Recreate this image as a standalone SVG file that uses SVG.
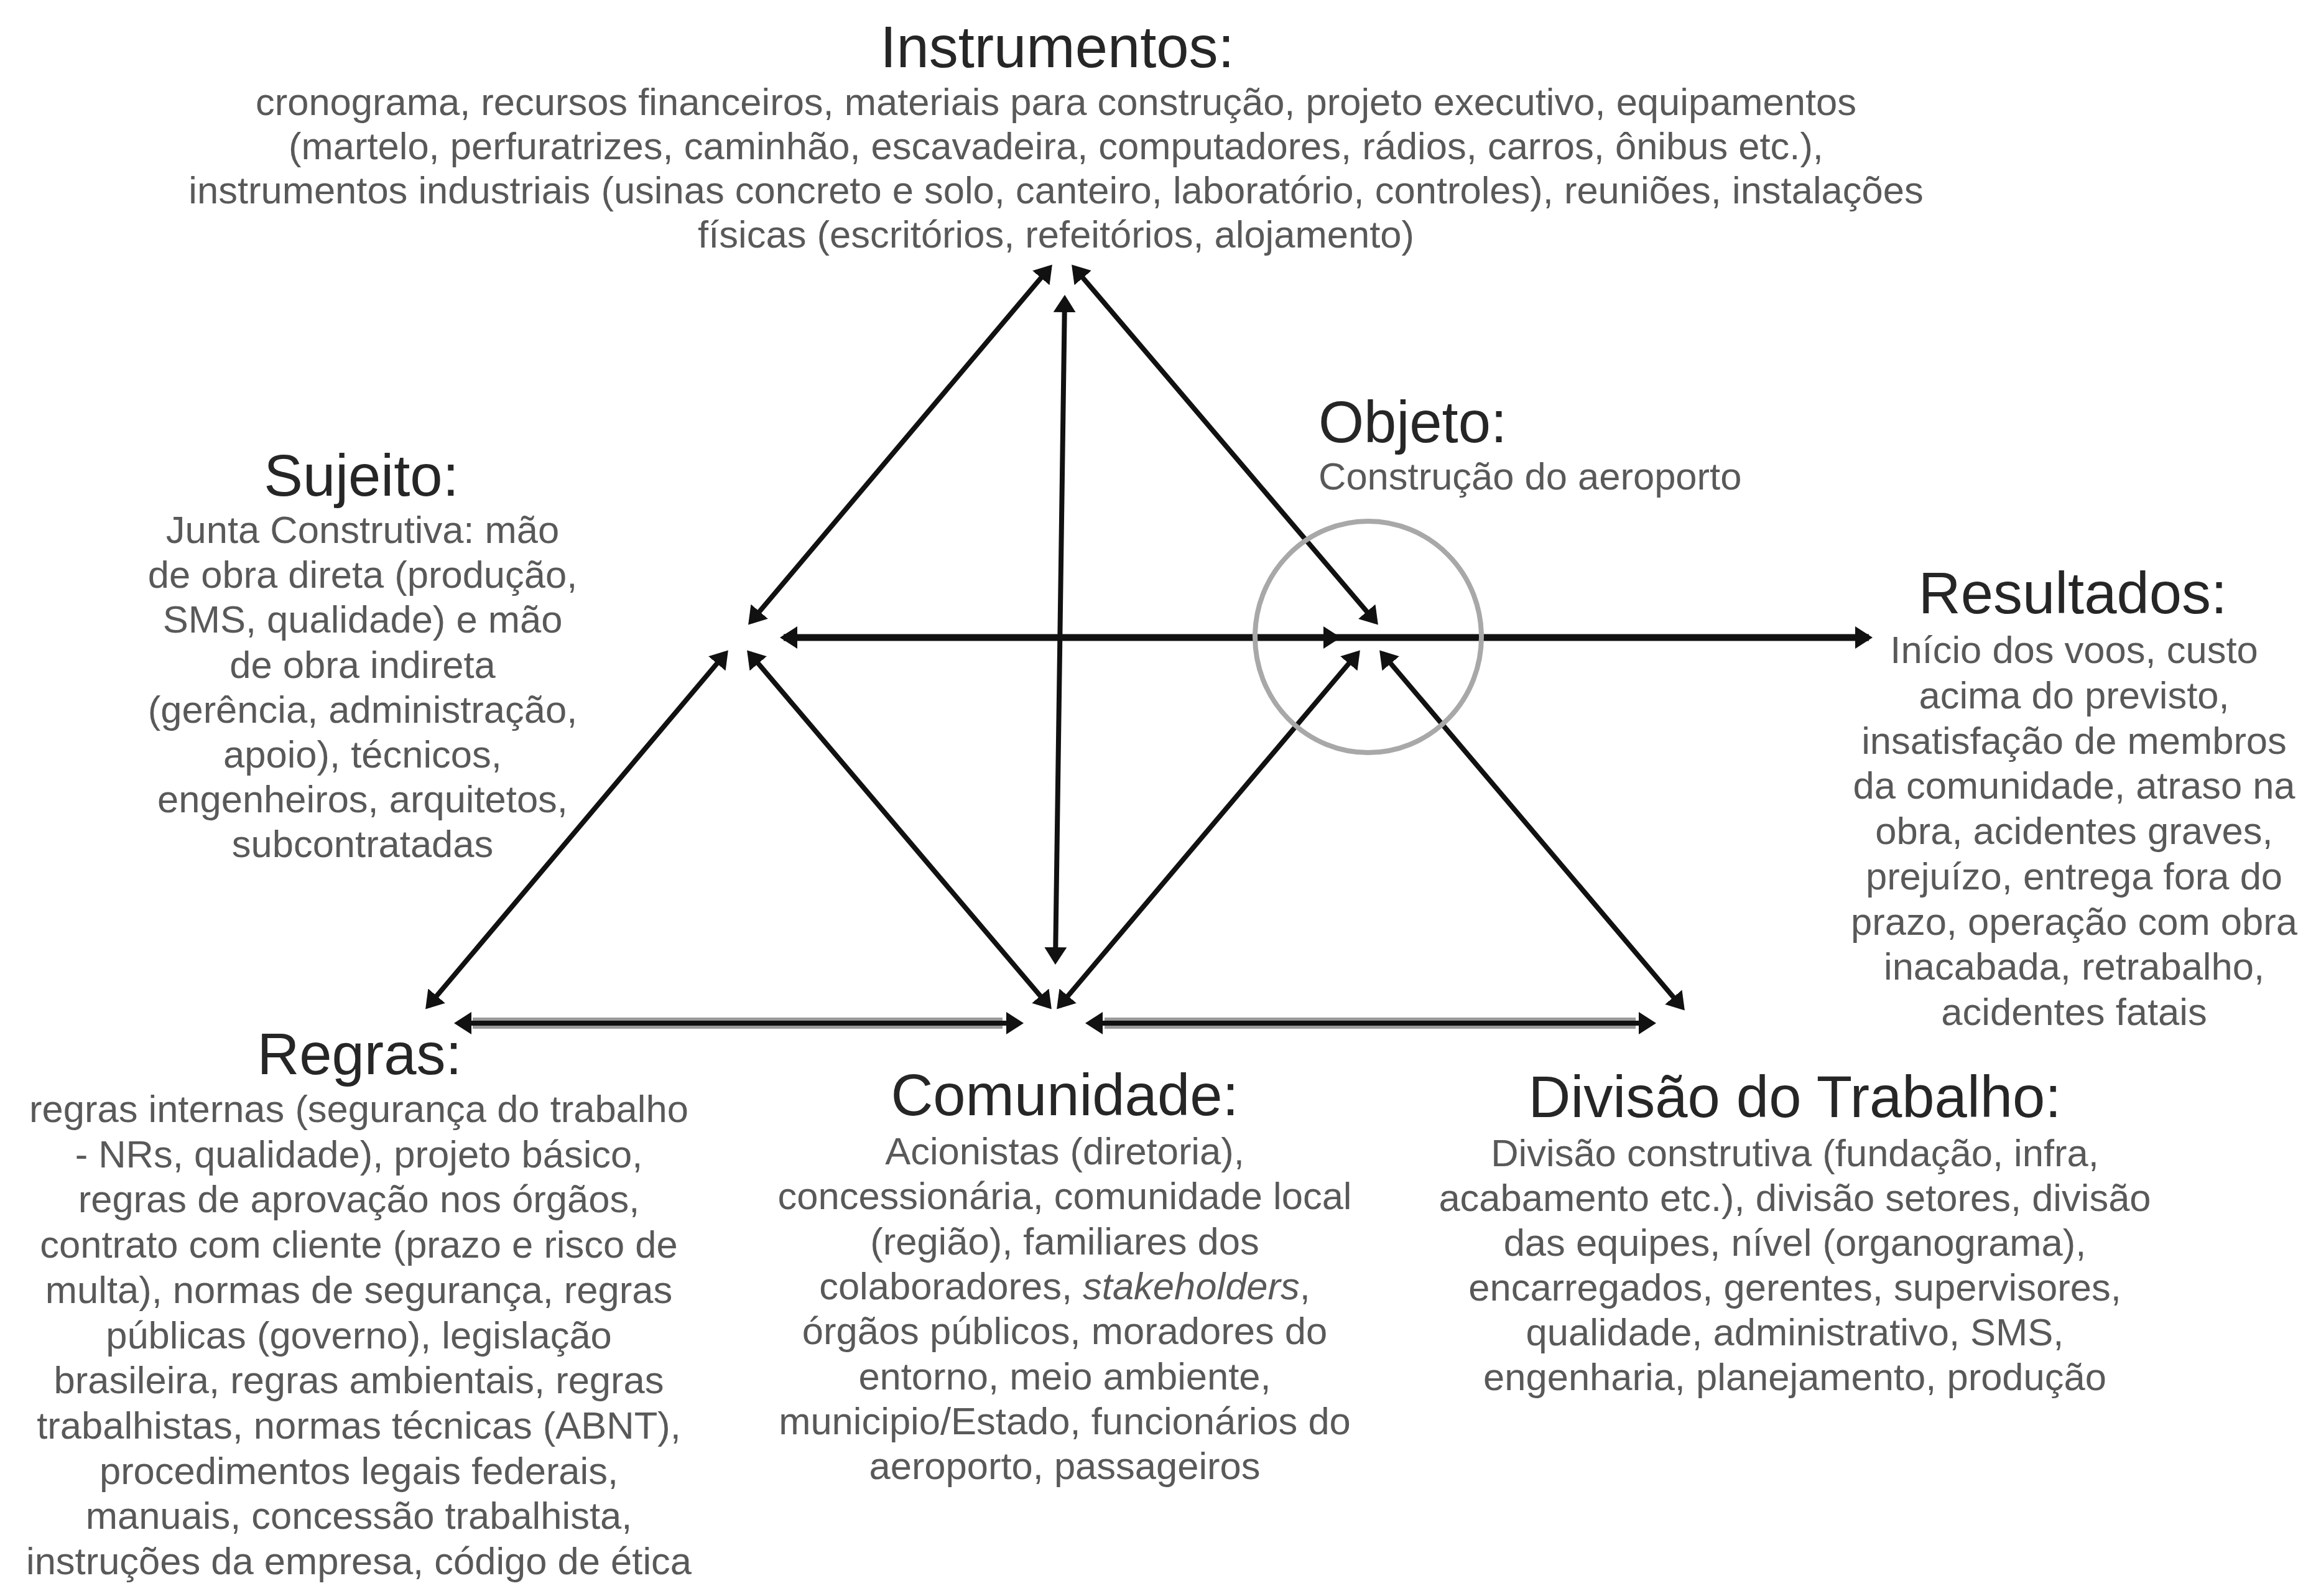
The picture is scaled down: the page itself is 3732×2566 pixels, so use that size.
<svg xmlns="http://www.w3.org/2000/svg" width="3732" height="2566" viewBox="0 0 3732 2566">
<style>
.t{font-family:"Liberation Sans",Arial,sans-serif;font-size:94px;fill:#262626;text-anchor:middle}
.b{font-family:"Liberation Sans",Arial,sans-serif;font-size:61.5px;fill:#595959;text-anchor:middle}
.s{text-anchor:start}
.c{fill:none;stroke:#111;stroke-width:8}
.h{stroke-width:11}
.g{fill:none;stroke:#9a9a9a;stroke-width:18}
.d{marker-start:url(#ah);marker-end:url(#ah)}
.e{marker-end:url(#ah)}
</style>
<defs>
<marker id="ah" markerUnits="userSpaceOnUse" markerWidth="28" markerHeight="36" viewBox="0 0 28 36" refX="22" refY="18" orient="auto-start-reverse">
<path d="M0,0 L28,18 L0,36 z" fill="#111"/>
</marker>
</defs>
<rect width="3732" height="2566" fill="#fff"/>

<g id="connectors">
<line class="g" x1="760" y1="1645" x2="1612" y2="1645"/>
<line class="g" x1="1776" y1="1645" x2="2630" y2="1645"/>
<line class="c d" x1="1688" y1="430" x2="1207" y2="1000"/>
<line class="c d" x1="1727" y1="430" x2="2212" y2="1000"/>
<line class="c d" x1="1712" y1="480" x2="1697" y2="1545"/>
<line class="c h d" x1="1260" y1="1025" x2="2150" y2="1025"/>
<line class="c h e" x1="2150" y1="1025" x2="3005" y2="1025"/>
<line class="c d" x1="1167" y1="1050" x2="688" y2="1618"/>
<line class="c d" x1="1205" y1="1050" x2="1687" y2="1618"/>
<line class="c d" x1="1703" y1="1618" x2="2183" y2="1050"/>
<line class="c d" x1="2222" y1="1050" x2="2705" y2="1620"/>
<line class="c d" x1="736" y1="1645" x2="1640" y2="1645"/>
<line class="c d" x1="1751" y1="1645" x2="2657" y2="1645"/>
</g>

<g id="objeto-highlight">
<ellipse cx="2200" cy="1024" rx="182" ry="186" fill="none" stroke="#a8a8a8" stroke-width="8"/>
</g>

<g id="instrumentos">
<text class="t" x="1700" y="108">Instrumentos:</text>
<text class="b" x="1698" y="185">cronograma, recursos financeiros, materiais para construção, projeto executivo, equipamentos</text>
<text class="b" x="1698" y="256">(martelo, perfuratrizes, caminhão, escavadeira, computadores, rádios, carros, ônibus etc.),</text>
<text class="b" x="1698" y="327">instrumentos industriais (usinas concreto e solo, canteiro, laboratório, controles), reuniões, instalações</text>
<text class="b" x="1698" y="398">físicas (escritórios, refeitórios, alojamento)</text>
</g>

<g id="sujeito">
<text class="t" x="581" y="797">Sujeito:</text>
<text class="b" x="583" y="873">Junta Construtiva: mão</text>
<text class="b" x="583" y="945">de obra direta (produção,</text>
<text class="b" x="583" y="1017">SMS, qualidade) e mão</text>
<text class="b" x="583" y="1090">de obra indireta</text>
<text class="b" x="583" y="1162">(gerência, administração,</text>
<text class="b" x="583" y="1234">apoio), técnicos,</text>
<text class="b" x="583" y="1306">engenheiros, arquitetos,</text>
<text class="b" x="583" y="1378">subcontratadas</text>
</g>

<g id="objeto">
<text class="t s" x="2120" y="711">Objeto:</text>
<text class="b s" x="2120" y="787">Construção do aeroporto</text>
</g>

<g id="resultados">
<text class="t" x="3333" y="986">Resultados:</text>
<text class="b" x="3335" y="1066">Início dos voos, custo</text>
<text class="b" x="3335" y="1139">acima do previsto,</text>
<text class="b" x="3335" y="1212">insatisfação de membros</text>
<text class="b" x="3335" y="1284">da comunidade, atraso na</text>
<text class="b" x="3335" y="1357">obra, acidentes graves,</text>
<text class="b" x="3335" y="1430">prejuízo, entrega fora do</text>
<text class="b" x="3335" y="1503">prazo, operação com obra</text>
<text class="b" x="3335" y="1575">inacabada, retrabalho,</text>
<text class="b" x="3335" y="1648">acidentes fatais</text>
</g>

<g id="regras">
<text class="t" x="578" y="1727">Regras:</text>
<text class="b" x="577" y="1804">regras internas (segurança do trabalho</text>
<text class="b" x="577" y="1877">- NRs, qualidade), projeto básico,</text>
<text class="b" x="577" y="1949">regras de aprovação nos órgãos,</text>
<text class="b" x="577" y="2022">contrato com cliente (prazo e risco de</text>
<text class="b" x="577" y="2095">multa), normas de segurança, regras</text>
<text class="b" x="577" y="2168">públicas (governo), legislação</text>
<text class="b" x="577" y="2240">brasileira, regras ambientais, regras</text>
<text class="b" x="577" y="2313">trabalhistas, normas técnicas (ABNT),</text>
<text class="b" x="577" y="2386">procedimentos legais federais,</text>
<text class="b" x="577" y="2458">manuais, concessão trabalhista,</text>
<text class="b" x="577" y="2531">instruções da empresa, código de ética</text>
</g>

<g id="comunidade">
<text class="t" x="1712" y="1793">Comunidade:</text>
<text class="b" x="1712" y="1872">Acionistas (diretoria),</text>
<text class="b" x="1712" y="1944">concessionária, comunidade local</text>
<text class="b" x="1712" y="2017">(região), familiares dos</text>
<text class="b" x="1712" y="2089">colaboradores, <tspan font-style="italic">stakeholders</tspan>,</text>
<text class="b" x="1712" y="2161">órgãos públicos, moradores do</text>
<text class="b" x="1712" y="2234">entorno, meio ambiente,</text>
<text class="b" x="1712" y="2306">municipio/Estado, funcionários do</text>
<text class="b" x="1712" y="2378">aeroporto, passageiros</text>
</g>

<g id="divisao">
<text class="t" x="2886" y="1796">Divisão do Trabalho:</text>
<text class="b" x="2886" y="1875">Divisão construtiva (fundação, infra,</text>
<text class="b" x="2886" y="1947">acabamento etc.), divisão setores, divisão</text>
<text class="b" x="2886" y="2019">das equipes, nível (organograma),</text>
<text class="b" x="2886" y="2091">encarregados, gerentes, supervisores,</text>
<text class="b" x="2886" y="2163">qualidade, administrativo, SMS,</text>
<text class="b" x="2886" y="2235">engenharia, planejamento, produção</text>
</g>
</svg>
